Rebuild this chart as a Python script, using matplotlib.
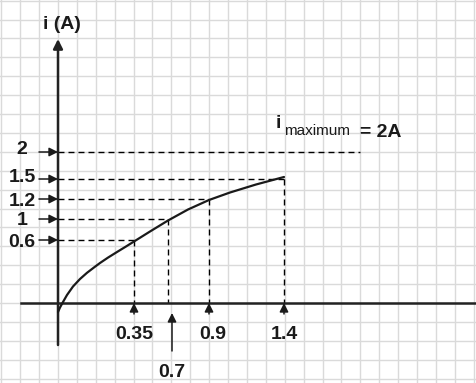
import numpy as np
import matplotlib
matplotlib.use("Agg")
import matplotlib.pyplot as plt

# schematic values (labels) and where they sit on the sketch (pixel units)
i_labels = ["2", "1.5", "1.2", "1", "0.6"]
i_pos = [152, 179, 199, 219, 240]
i_label_base = [154, 182, 206, 225, 247]
t_labels = ["0.35", "0.7", "0.9", "1.4"]
t_pos = [134, 168, 209, 284]
# end of each horizontal dashed guide (the 2 A line runs past the curve)
i_guide_end = [360, 284, 209, 168, 134]
# curve points
curve_x = [58, 60, 63, 67, 73, 80, 87, 95, 100, 108, 117, 126, 134,
           150, 168, 188, 209, 230, 256, 284]
curve_y = [312, 307.5, 302, 295, 286.5, 279, 272.8, 266.7, 263, 257.6, 252,
           246.5, 241.5, 231.5, 220.5, 209.5, 200, 192.5, 184.5, 177]

x0, y0 = 58, 303  # origin
W, H = 477, 383
ink = "#1a1a1a"

fig = plt.figure(figsize=(W / 100, H / 100), dpi=100)
ax = fig.add_axes([0, 0, 1, 1])
ax.set_xlim(0, W)
ax.set_ylim(H, 0)
ax.axis("off")

# background grid
step = 18.9
for gx in np.arange(x0 % step, W, step):
    ax.axvline(gx, color="#dadada", lw=1, zorder=0)
for gy in np.arange(y0 % step, H, step):
    ax.axhline(gy, color="#dadada", lw=1, zorder=0)

font = dict(family="Liberation Sans", weight="bold", size=14, color=ink)
arrow = dict(arrowstyle="-|>", color=ink, lw=1.1, mutation_scale=13,
             shrinkA=0, shrinkB=0)
dash = dict(color="black", lw=1, ls=(0, (4.3, 2.9)), zorder=2)

# axes
ax.plot([21, W], [y0, y0], color="#222222", lw=1.8, zorder=3)
ax.annotate("", xy=(x0, 39), xytext=(x0, 345),
            arrowprops=dict(arrowstyle="-|>", color="#222222", lw=1.8,
                            mutation_scale=14, shrinkA=0, shrinkB=0), zorder=3)
ax.text(62, 29, "i (A)", ha="center", va="baseline", **font)

# current levels
for lab, y, yb, xe in zip(i_labels, i_pos, i_label_base, i_guide_end):
    ax.plot([x0, xe], [y, y], **dash)
    ax.annotate("", xy=(x0, y), xytext=(39, y), arrowprops=arrow, zorder=4)
    ax.text(22, yb, lab, ha="center", va="baseline", **font)

# time marks
for x, y in zip(t_pos, i_pos[1:][::-1]):
    ax.plot([x, x], [y, y0], **dash)
for lab, x in zip(t_labels, t_pos):
    if lab == "0.7":
        ax.annotate("", xy=(x + 4, 313), xytext=(x + 4, 351), arrowprops=arrow, zorder=4)
        ax.text(x + 4, 377, lab, ha="center", va="baseline", **font)
    else:
        ax.annotate("", xy=(x, y0), xytext=(x, 314), arrowprops=arrow, zorder=4)
        ax.text(x + (4 if lab == "0.9" else 0), 339, lab, ha="center",
                va="baseline", **font)

# rising current curve
ax.plot(curve_x, curve_y, color=ink, lw=1.6, solid_capstyle="round",
        solid_joinstyle="round", zorder=3)

# max current annotation
ax.text(276, 128, "i", ha="left", va="baseline", family="Liberation Sans",
        weight="bold", size=14, color=ink)
ax.text(284, 135, "maximum", ha="left", va="baseline", family="Liberation Sans",
        size=11, color=ink)
ax.text(360, 137, "= 2A", ha="left", va="baseline", **font)

fig.savefig("out.png", dpi=100)
